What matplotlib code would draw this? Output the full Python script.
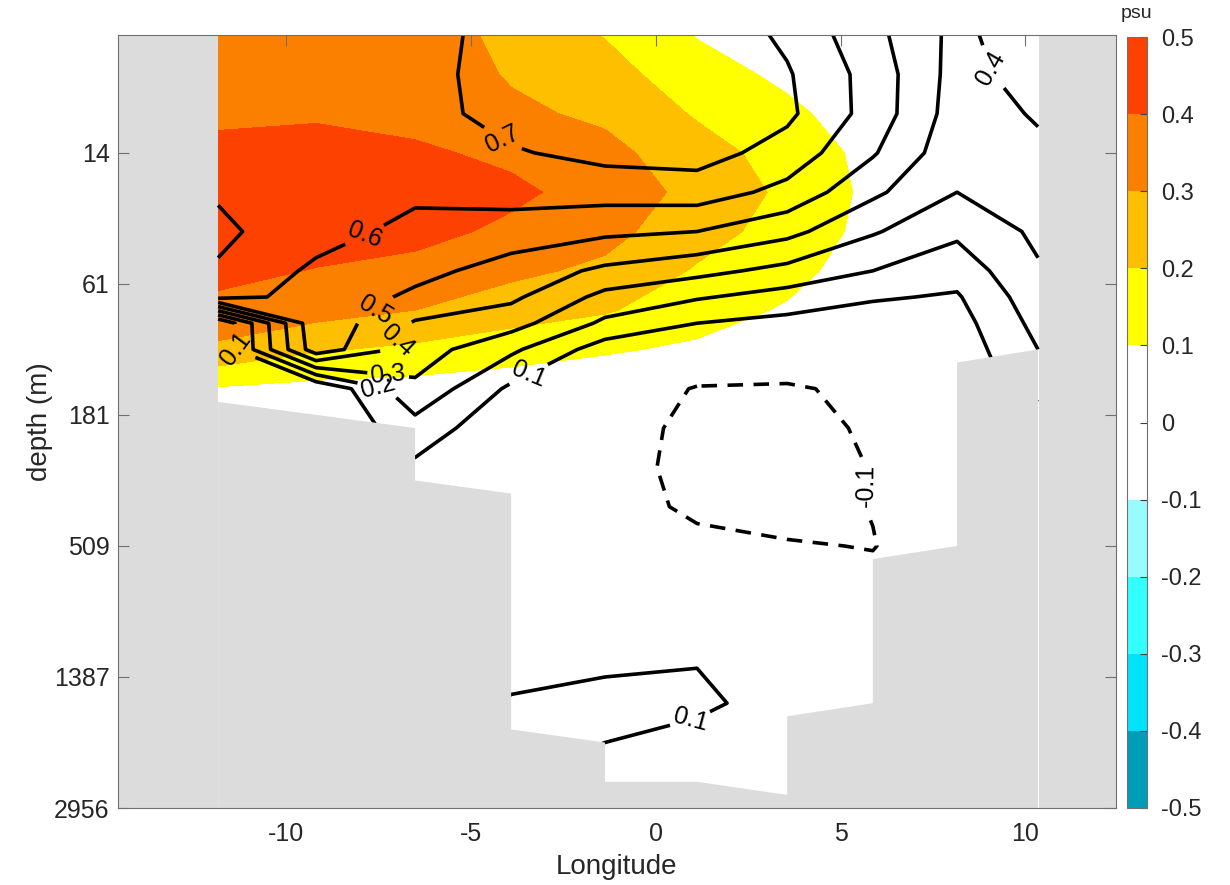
import numpy as np
import matplotlib
matplotlib.use('Agg')
import matplotlib.pyplot as plt
from matplotlib.colors import ListedColormap, BoundaryNorm
from matplotlib.cm import ScalarMappable

plt.rcParams['font.family'] = ['Liberation Sans', 'DejaVu Sans']
plt.rcParams['axes.unicode_minus'] = False
plt.rcParams['lines.dashed_pattern'] = [4.3, 2.9]

# model columns (longitude) and level indices
LON = [-11.85, -9.20, -6.52, -3.92, -1.38, 1.11, 3.55, 5.87, 8.15, 10.34]

# salinity anomaly (shaded), psu
LEV_F = [1, 4, 7, 10, 13, 16, 19, 22, 25, 28, 31, 35, 40, 50, 60]
SAL_F = [
    [0.36, 0.36, 0.36, 0.27, 0.195, 0.095, 0.04, 0.00, 0.0, 0.0],
    [0.37, 0.37, 0.37, 0.29, 0.24, 0.14, 0.08, 0.02, 0.0, 0.0],
    [0.385, 0.39, 0.37, 0.32, 0.28, 0.19, 0.12, 0.05, 0.0, 0.0],
    [0.42, 0.43, 0.415, 0.38, 0.33, 0.24, 0.16, 0.07, 0.01, 0.0],
    [0.45, 0.46, 0.45, 0.42, 0.36, 0.27, 0.18, 0.075, 0.01, 0.0],
    [0.46, 0.45, 0.43, 0.38, 0.33, 0.24, 0.16, 0.07, 0.01, 0.0],
    [0.43, 0.395, 0.37, 0.32, 0.28, 0.19, 0.13, 0.05, 0.0, 0.0],
    [0.37, 0.34, 0.30, 0.25, 0.21, 0.14, 0.09, 0.04, 0.0, 0.0],
    [0.28, 0.21, 0.18, 0.14, 0.11, 0.085, 0.05, 0.02, 0.0, 0.0],
    [0.09, 0.07, 0.06, 0.05, 0.04, 0.03, 0.02, 0.0, 0.0, 0.0],
    [0.03, 0.03, 0.03, 0.02, 0.02, 0.01, 0.0, 0.0, 0.0, 0.0],
    [0.0, 0.0, 0.0, 0.0, 0.0, 0.0, 0.0, 0.0, 0.0, 0.0],
    [0.0, 0.0, 0.0, 0.0, 0.0, 0.0, 0.0, 0.0, 0.0, 0.0],
    [0.0, 0.0, 0.0, 0.0, 0.0, 0.0, 0.0, 0.0, 0.0, 0.0],
    [0.0, 0.0, 0.0, 0.0, 0.0, 0.0, 0.0, 0.0, 0.0, 0.0],
]

# second field (black contours)
nan = np.nan
LEV_S = [1, 4, 7, 10, 13, 16, 19, 21, 23, 25, 28, 31, 34, 37, 40, 44, 48, 52, 56, 60]
SAL_S = [
    [0.63, 0.64, 0.66, 0.74, 0.79, 0.78, 0.68, 0.53, 0.37, 0.48],
    [0.64, 0.65, 0.66, 0.75, 0.80, 0.79, 0.71, 0.56, 0.36, 0.45],
    [0.66, 0.66, 0.66, 0.74, 0.79, 0.78, 0.72, 0.56, 0.35, 0.41],
    [0.68, 0.66, 0.66, 0.69, 0.73, 0.74, 0.66, 0.51, 0.33, 0.38],
    [0.69, 0.66, 0.62, 0.64, 0.64, 0.65, 0.57, 0.42, 0.30, 0.35],
    [0.72, 0.64, 0.57, 0.55, 0.52, 0.50, 0.43, 0.31, 0.22, 0.32],
    [0.69, 0.58, 0.53, 0.46, 0.38, 0.33, 0.27, 0.20, 0.14, 0.29],
    [0.63, 0.57, 0.48, 0.42, 0.27, 0.21, 0.16, 0.11, 0.09, 0.26],
    [0.00, 0.58, 0.39, 0.34, 0.18, 0.10, 0.07, 0.05, 0.06, 0.23],
    [0.00, 0.56, 0.35, 0.22, 0.05, 0.04, 0.03, 0.03, 0.04, 0.20],
    [nan, 0.00, 0.28, 0.08, 0.00, -0.11, -0.12, -0.06, 0.03, 0.15],
    [nan, 0.00, 0.16, 0.02, -0.03, -0.14, -0.15, -0.08, 0.0, 0.0],
    [nan, 0.00, 0.08, 0.00, -0.035, -0.15, -0.16, -0.095, 0.0, 0.0],
    [nan, 0.00, 0.05, 0.00, -0.03, -0.13, -0.15, -0.095, 0.0, 0.0],
    [nan, 0.00, 0.03, 0.00, -0.01, -0.06, -0.09, -0.105, 0.0, 0.0],
    [nan, 0.00, 0.02, 0.01, 0.02, 0.01, -0.02, -0.05, 0.0, 0.0],
    [nan, 0.00, 0.02, 0.05, 0.07, 0.09, 0.02, 0.0, 0.0, 0.0],
    [nan, 0.00, 0.02, 0.11, 0.13, 0.12, 0.06, 0.0, 0.0, 0.0],
    [nan, 0.00, 0.02, 0.12, 0.09, 0.05, 0.02, 0.0, 0.0, 0.0],
    [nan, 0.00, 0.02, 0.10, 0.05, 0.03, 0.01, 0.0, 0.0, 0.0],
]

# sea floor (level index) along the section
BATHY_LON = [-11.85, -6.52, -6.52, -3.92, -3.92, -1.38, -1.38, 1.11, 3.55, 3.55, 5.87, 5.87, 8.15, 8.15, 10.34]
BATHY_LEV = [29, 31, 35, 36, 54, 55, 58, 58, 59, 53, 52, 41, 40, 26, 25]

DEPTH_TICKS = [10, 20, 30, 40, 50, 60]
DEPTH_LABELS = ['14', '61', '181', '509', '1387', '2956']

CF_LEVELS = [-0.5, -0.4, -0.3, -0.2, -0.1, 0.0, 0.1, 0.2, 0.3, 0.4, 0.5]
CF_TICKLABELS = ['-0.5', '-0.4', '-0.3', '-0.2', '-0.1', '0', '0.1', '0.2', '0.3', '0.4', '0.5']
CF_COLORS = ['#009db9', '#00e3fb', '#33ffff', '#99fcfc', '#ffffff',
             '#ffffff', '#ffff00', '#fdbf00', '#fb8000', '#fc4100']
LINE_LEVELS = [-0.1, 0.1, 0.2, 0.3, 0.4, 0.5, 0.6, 0.7]

# where the contour labels go (lon, level)
LABEL_POS = [(-4.22, 9.4), (-7.88, 16.3), (-7.6, 22.0), (-7.0, 24.3),
             (-7.25, 27.0), (-7.55, 28.5), (-3.41, 27.2), (-11.45, 25.0),
             (5.33, 35.3), (0.92, 53.1), (8.5, 4.4)]

W, H = 1230, 885
fig = plt.figure(figsize=(W / 100, H / 100), dpi=100)
ax = fig.add_axes([118 / W, 1 - 808 / H, (1116 - 118) / W, (808 - 35) / H])
ax.set_facecolor('#dcdcdc')

X, Y = np.meshgrid(LON, LEV_F)
ax.contourf(X, Y, np.array(SAL_F), levels=CF_LEVELS, colors=CF_COLORS, zorder=1)

Xs, Ys = np.meshgrid(LON, LEV_S)
S = np.ma.masked_invalid(np.array(SAL_S, dtype=float))
cs = ax.contour(Xs, Ys, S, levels=LINE_LEVELS, colors='k', linewidths=2.6, zorder=2)

# land below the sea floor
ax.fill(BATHY_LON + [10.34, -11.85], BATHY_LEV + [60, 60], color='#dcdcdc', lw=0, zorder=2.5)

ax.clabel(cs, fmt='%g', manual=LABEL_POS, inline=True, inline_spacing=8, fontsize=18)

ax.set_xlim(-14.56, 12.45)
ax.set_ylim(60, 1)
ax.set_xticks([-10, -5, 0, 5, 10])
ax.set_yticks(DEPTH_TICKS)
ax.set_yticklabels(DEPTH_LABELS)
ax.tick_params(direction='in', length=8, width=0.8, top=True, right=True,
               color='#707070', labelcolor='#262626', labelsize=18)
ax.tick_params(axis='x', pad=10)
ax.tick_params(axis='y', pad=6)
for sp in ax.spines.values():
    sp.set_color('#707070')
    sp.set_linewidth(0.8)
ax.set_xlabel('Longitude', fontsize=20, color='#262626', labelpad=6)
ax.set_ylabel('depth (m)', fontsize=20, color='#262626', labelpad=1)

cax = fig.add_axes([1127 / W, 1 - 808 / H, 20 / W, (808 - 37) / H])
sm = ScalarMappable(norm=BoundaryNorm(CF_LEVELS, len(CF_COLORS)), cmap=ListedColormap(CF_COLORS))
cb = fig.colorbar(sm, cax=cax, ticks=CF_LEVELS)
cb.ax.set_yticklabels(CF_TICKLABELS)
cb.ax.tick_params(direction='in', length=5, width=0.8, color='#404040', labelcolor='#262626',
                  labelsize=17, pad=10)
cb.outline.set_edgecolor('#707070')
cb.outline.set_linewidth(0.8)
fig.text(1137 / W, 1 - 14 / H, 'psu', ha='center', va='center', fontsize=14, color='#262626')

fig.savefig('out.png', dpi=100)
